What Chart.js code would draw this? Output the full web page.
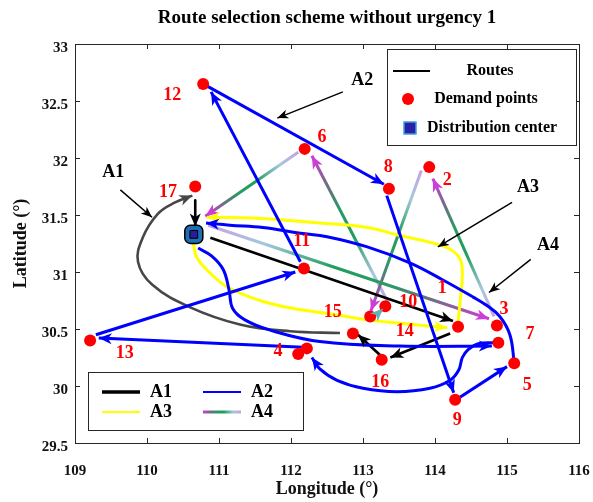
<!DOCTYPE html>
<html>
<head>
<meta charset="utf-8">
<script src="https://cdn.jsdelivr.net/npm/chart.js@4"></script>
<style>
  body { margin: 0; background: #fff; }
  #wrap { width: 593px; height: 502px; }
</style>
</head>
<body>
<div id="wrap"><canvas id="routeChart" width="593" height="502"></canvas></div>
<script>
const xTicks = [109, 110, 111, 112, 113, 114, 115, 116];
const xTickLabels = ['109', '110', '111', '112', '113', '114', '115', '116'];
const yTicks = [29.5, 30, 30.5, 31, 31.5, 32, 32.5, 33];
const yTickLabels = ['29.5', '30', '30.5', '31', '31.5', '32', '32.5', '33'];

// demand points (last one is the unlabeled dot next to 4)
const pointNames = ['1', '2', '3', '4', '5', '6', '7', '8', '9', '10', '11', '12', '13', '14', '15', '16', '17', ''];
const pointLon = [114.32, 113.92, 114.86, 112.10, 115.10, 112.19, 114.88, 113.36, 114.28, 113.31, 112.18, 110.78, 109.21, 112.86, 113.10, 113.26, 110.67, 112.22];
const pointLat = [30.52, 31.92, 30.53, 30.28, 30.20, 32.08, 30.38, 31.73, 29.88, 30.70, 31.03, 32.65, 30.40, 30.46, 30.61, 30.23, 31.75, 30.33];
const labelLon = [114.10, 114.17, 114.96, 111.82, 115.28, 112.43, 115.32, 113.35, 114.31, 113.63, 112.15, 110.35, 109.69, 113.58, 112.58, 113.24, 110.29];
const labelLat = [30.86, 31.80, 30.67, 30.30, 30.01, 32.18, 30.45, 31.92, 29.70, 30.73, 31.27, 32.55, 30.29, 30.48, 30.65, 30.03, 31.70];

const centerLon = [110.65];
const centerLat = [31.33];

// route legs, each a list of [lon, lat]
const a1Segments = [
  [[110.88, 31.30], [114.25, 30.57]],
  [[114.21, 30.46], [113.38, 30.25]],
  [[113.24, 30.27], [112.93, 30.45]],
  [[112.68, 30.465], [111.99, 30.48], [111.29, 30.54], [110.60, 30.69], [110.07, 30.89], [109.875, 31.09], [109.94, 31.30], [110.15, 31.51], [110.39, 31.61], [110.63, 31.67]],
  [[110.67, 31.63], [110.67, 31.40]]
];
const a2Segments = [
  [[110.71, 31.21], [110.90, 31.14], [111.06, 31.02], [111.14, 30.84], [111.19, 30.68], [111.36, 30.58], [111.71, 30.49], [112.40, 30.39], [113.51, 30.35], [114.79, 30.35]],
  [[114.83, 30.38], [114.60, 30.37], [114.46, 30.32], [114.38, 30.25], [114.33, 30.14], [114.21, 30.05], [113.93, 29.98], [113.47, 29.95], [113.00, 29.98], [112.64, 30.05], [112.40, 30.15], [112.29, 30.25]],
  [[112.17, 30.34], [109.33, 30.42]],
  [[109.29, 30.45], [112.06, 31.00]],
  [[112.13, 31.09], [110.89, 32.58]],
  [[110.78, 32.65], [113.29, 31.77]],
  [[113.33, 31.67], [114.26, 29.94]],
  [[114.32, 29.89], [115.00, 30.17]],
  [[115.10, 30.21], [115.04, 30.45], [114.90, 30.61], [114.71, 30.71], [114.53, 30.78], [114.11, 30.93], [113.65, 31.08], [113.06, 31.22], [112.50, 31.31], [112.13, 31.34], [111.61, 31.39], [111.15, 31.41], [110.82, 31.43]]
];
const a3Segments = [
  [[110.64, 31.26], [110.69, 31.13], [110.83, 31.02], [111.11, 30.87], [111.57, 30.75], [112.03, 30.68], [112.58, 30.63], [113.06, 30.58], [113.51, 30.55], [114.17, 30.51]],
  [[114.32, 30.56], [114.35, 30.75], [114.38, 30.97], [114.35, 31.11], [114.21, 31.20], [113.93, 31.26], [113.51, 31.32], [113.06, 31.39], [112.40, 31.43], [111.57, 31.47], [110.83, 31.48]]
];
const a4Segments = [
  [[110.85, 31.41], [114.75, 30.59]],
  [[114.82, 30.61], [113.97, 31.82]],
  [[113.81, 31.89], [113.11, 30.66]],
  [[113.18, 30.62], [113.28, 30.68]],
  [[113.35, 30.73], [112.29, 32.02]],
  [[112.10, 32.05], [110.81, 31.49]]
];

// callouts naming the routes
const calloutNames = ['A1', 'A2', 'A3', 'A4'];
const calloutTextLon = [109.53, 112.99, 115.29, 115.57];
const calloutTextLat = [31.87, 32.68, 31.74, 31.23];
const calloutFrom = [[109.63, 31.72], [112.72, 32.58], [115.07, 31.61], [115.33, 31.11]];
const calloutTo = [[110.07, 31.48], [111.81, 32.35], [114.04, 31.22], [114.75, 30.82]];

const FONT = "'Liberation Serif', 'Times New Roman', serif";
const a1Colors = ['#000000', '#000000', '#000000', '#474747', '#000000'];
const A2_COLOR = '#0000ff';
const A3_COLOR = '#ffff00';
const A4_STOPS = [[0, '#c7a0e6'], [0.2, '#a5c8dc'], [0.45, '#1f9e5c'], [0.64, '#2a9a66'], [0.8, '#6e6e84'], [1, '#d03cd8']];

function toXY(seg) {
  return seg.map(p => ({ x: p[0], y: p[1] }));
}

function a4Gradient(context) {
  const chart = context.chart;
  if (!chart.chartArea) return '#c060d0';
  const data = context.dataset.data;
  const p0 = data[0], p1 = data[data.length - 1];
  const xs = chart.scales.x, ys = chart.scales.y;
  const g = chart.ctx.createLinearGradient(xs.getPixelForValue(p0.x), ys.getPixelForValue(p0.y),
    xs.getPixelForValue(p1.x), ys.getPixelForValue(p1.y));
  A4_STOPS.forEach(s => g.addColorStop(s[0], s[1]));
  return g;
}

function routeSet(seg, color, width, arrowColor) {
  return {
    data: toXY(seg),
    showLine: true,
    borderColor: color,
    borderWidth: width,
    pointRadius: 0,
    pointHoverRadius: 0,
    tension: seg.length > 2 ? 0.4 : 0,
    borderCapStyle: 'butt',
    borderJoinStyle: 'round',
    arrowColor: arrowColor
  };
}

const datasets = [];
datasets.push({
  data: pointLon.map((x, i) => ({ x, y: pointLat[i] })),
  pointRadius: 6, pointStyle: 'circle',
  backgroundColor: '#ff0000', borderColor: '#ff0000', borderWidth: 0, showLine: false
});
datasets.push({
  data: centerLon.map((x, i) => ({ x, y: centerLat[i] })),
  pointRadius: 5.5, pointStyle: 'rect',
  backgroundColor: '#2b1c9e', borderColor: '#000', borderWidth: 1, showLine: false
});
datasets.push({
  data: centerLon.map((x, i) => ({ x, y: centerLat[i] })),
  pointRadius: 10.5, pointStyle: 'rectRounded',
  backgroundColor: '#1d6fb4', borderColor: '#000', borderWidth: 1.5, showLine: false
});
a2Segments.forEach(s => datasets.push(routeSet(s, A2_COLOR, 3, A2_COLOR)));
a1Segments.forEach((s, i) => datasets.push(routeSet(s, a1Colors[i], 2.6, a1Colors[i])));
a3Segments.forEach(s => datasets.push(routeSet(s, A3_COLOR, 3, A3_COLOR)));
a4Segments.forEach((s, i) => datasets.push(routeSet(s, a4Gradient, 3, i === 3 ? '#62b4b4' : '#d03cd8')));

function arrowHead(ctx, x0, y0, x1, y1, len, half, color) {
  const a = Math.atan2(y1 - y0, x1 - x0);
  ctx.save();
  ctx.translate(x1, y1);
  ctx.rotate(a);
  ctx.beginPath();
  ctx.moveTo(0, 0);
  ctx.lineTo(-len, half);
  ctx.lineTo(-len * 0.72, 0);
  ctx.lineTo(-len, -half);
  ctx.closePath();
  ctx.fillStyle = color;
  ctx.fill();
  ctx.restore();
}

const overlayPlugin = {
  id: 'overlay',
  afterDatasetsDraw(chart) {
    const { ctx, chartArea: ca } = chart;
    const xs = chart.scales.x, ys = chart.scales.y;
    const px = v => xs.getPixelForValue(v), py = v => ys.getPixelForValue(v);

    // arrowheads at the end of every route leg
    for (let i = chart.data.datasets.length - 1; i >= 0; i--) {
      const ds = chart.data.datasets[i];
      if (!ds.arrowColor) continue;
      const pts = chart.getDatasetMeta(i).data;
      const a = pts[pts.length - 2], b = pts[pts.length - 1];
      arrowHead(ctx, a.x, a.y, b.x, b.y, 13, 5.5, ds.arrowColor);
    }

    // callouts
    ctx.save();
    ctx.strokeStyle = '#000';
    ctx.lineWidth = 1.5;
    calloutNames.forEach((name, i) => {
      const x0 = px(calloutFrom[i][0]), y0 = py(calloutFrom[i][1]);
      const x1 = px(calloutTo[i][0]), y1 = py(calloutTo[i][1]);
      ctx.beginPath();
      ctx.moveTo(x0, y0);
      ctx.lineTo(x1, y1);
      ctx.stroke();
      arrowHead(ctx, x0, y0, x1, y1, 11, 4.5, '#000');
      ctx.fillStyle = '#000';
      ctx.font = `bold 18px ${FONT}`;
      ctx.textAlign = 'center';
      ctx.textBaseline = 'middle';
      ctx.fillText(name, px(calloutTextLon[i]), py(calloutTextLat[i]));
    });

    // point numbers
    ctx.fillStyle = '#ff0000';
    ctx.font = `bold 18px ${FONT}`;
    labelLon.forEach((lon, i) => {
      ctx.fillText(pointNames[i], px(lon), py(labelLat[i]));
    });
    ctx.restore();

    // axes box with inward ticks
    ctx.save();
    ctx.strokeStyle = '#262626';
    ctx.lineWidth = 1;
    ctx.strokeRect(Math.round(ca.left) + 0.5, Math.round(ca.top) + 0.5, Math.round(ca.width), Math.round(ca.height));
    ctx.beginPath();
    xTicks.forEach(v => {
      const x = Math.round(px(v)) + 0.5;
      ctx.moveTo(x, ca.bottom); ctx.lineTo(x, ca.bottom - 5);
      ctx.moveTo(x, ca.top); ctx.lineTo(x, ca.top + 5);
    });
    yTicks.forEach(v => {
      const y = Math.round(py(v)) + 0.5;
      ctx.moveTo(ca.left, y); ctx.lineTo(ca.left + 5, y);
      ctx.moveTo(ca.right, y); ctx.lineTo(ca.right - 5, y);
    });
    ctx.stroke();
    ctx.restore();

    drawLegends(chart);
  }
};

function drawLegends(chart) {
  const { ctx, chartArea: ca } = chart;
  ctx.save();
  ctx.font = `bold 16px ${FONT}`;
  ctx.textBaseline = 'middle';

  // symbol legend, top right
  let bx = Math.round(ca.right) - 192, by = Math.round(ca.top) + 5;
  ctx.fillStyle = '#fff';
  ctx.fillRect(bx, by, 189, 96);
  ctx.strokeStyle = '#262626';
  ctx.lineWidth = 1;
  ctx.strokeRect(bx + 0.5, by + 0.5, 189, 96);
  ctx.strokeStyle = '#000';
  ctx.lineWidth = 2;
  ctx.beginPath(); ctx.moveTo(bx + 6, by + 22); ctx.lineTo(bx + 43, by + 22); ctx.stroke();
  ctx.fillStyle = '#ff0000';
  ctx.beginPath(); ctx.arc(bx + 21, by + 50, 6, 0, Math.PI * 2); ctx.fill();
  ctx.fillStyle = '#2b1fa8';
  ctx.fillRect(bx + 17, by + 73, 12, 12);
  ctx.strokeStyle = '#3aa0e0';
  ctx.lineWidth = 1.5;
  ctx.strokeRect(bx + 17, by + 73, 12, 12);
  ctx.fillStyle = '#000';
  ctx.textAlign = 'center';
  ctx.fillText('Routes', bx + 103, by + 22);
  ctx.fillText('Demand points', bx + 99, by + 50);
  ctx.fillText('Distribution center', bx + 105, by + 79);

  // route legend, bottom left
  bx = Math.round(ca.left) + 13; by = Math.round(ca.bottom) - 71;
  ctx.fillStyle = '#fff';
  ctx.fillRect(bx, by, 215, 58);
  ctx.strokeStyle = '#262626';
  ctx.lineWidth = 1;
  ctx.strokeRect(bx + 0.5, by + 0.5, 215, 58);
  const rows = [
    { name: 'A1', color: '#000', w: 3.5, x: 14, y: 20 },
    { name: 'A2', color: A2_COLOR, w: 2, x: 115, y: 20 },
    { name: 'A3', color: A3_COLOR, w: 2, x: 14, y: 40 },
    { name: 'A4', color: null, w: 3, x: 115, y: 40 }
  ];
  rows.forEach(r => {
    const x0 = bx + r.x, x1 = bx + r.x + 38, y = by + r.y;
    let stroke = r.color;
    if (!stroke) {
      stroke = ctx.createLinearGradient(x0, y, x1, y);
      A4_STOPS.forEach(s => stroke.addColorStop(1 - s[0], s[1]));
    }
    ctx.strokeStyle = stroke;
    ctx.lineWidth = r.w;
    ctx.beginPath(); ctx.moveTo(x0, y); ctx.lineTo(x1, y); ctx.stroke();
    ctx.fillStyle = '#000';
    ctx.font = `bold 18px ${FONT}`;
    ctx.textAlign = 'left';
    ctx.fillText(r.name, x1 + 10, y);
  });
  ctx.restore();
}

function noOverflow(s) {
  s.paddingLeft = 0; s.paddingRight = 0; s.paddingTop = 0; s.paddingBottom = 0;
}

new Chart(document.getElementById('routeChart'), {
  type: 'scatter',
  data: { datasets: datasets },
  options: {
    responsive: false,
    animation: false,
    events: [],
    layout: { padding: { left: 0, right: 14, top: 0, bottom: 0 } },
    plugins: {
      legend: { display: false },
      tooltip: { enabled: false },
      title: {
        display: true,
        fullSize: false,
        text: 'Route selection scheme without urgency 1',
        color: '#000',
        font: { family: FONT, size: 19, weight: 'bold', lineHeight: 1.2 },
        padding: { top: 7, bottom: 14.2 }
      }
    },
    scales: {
      x: {
        type: 'linear', min: 109, max: 116,
        afterBuildTicks: s => { s.ticks = xTicks.map(v => ({ value: v })); },
        afterFit: s => { s.height = 59; noOverflow(s); },
        grid: { display: false, drawTicks: false },
        border: { display: false },
        ticks: {
          autoSkip: false, maxRotation: 0, padding: 19, color: '#111',
          font: { family: FONT, size: 15, weight: 'bold' },
          callback: (v, i) => xTickLabels[i]
        },
        title: {
          display: true, text: 'Longitude (°)', color: '#111',
          font: { family: FONT, size: 18, weight: 'bold' },
          padding: { top: 0, bottom: 2 }
        }
      },
      y: {
        type: 'linear', min: 29.5, max: 33,
        afterBuildTicks: s => { s.ticks = yTicks.map(v => ({ value: v })); },
        afterFit: s => { s.width = 75; noOverflow(s); },
        grid: { display: false, drawTicks: false },
        border: { display: false },
        ticks: {
          autoSkip: false, padding: 7, labelOffset: 4, color: '#111',
          font: { family: FONT, size: 15, weight: 'bold' },
          callback: (v, i) => yTickLabels[i]
        },
        title: {
          display: true, text: 'Latitude (°)', color: '#111',
          font: { family: FONT, size: 18, weight: 'bold' },
          padding: { top: 11, bottom: 0 }
        }
      }
    }
  },
  plugins: [overlayPlugin]
});
</script>
</body>
</html>
